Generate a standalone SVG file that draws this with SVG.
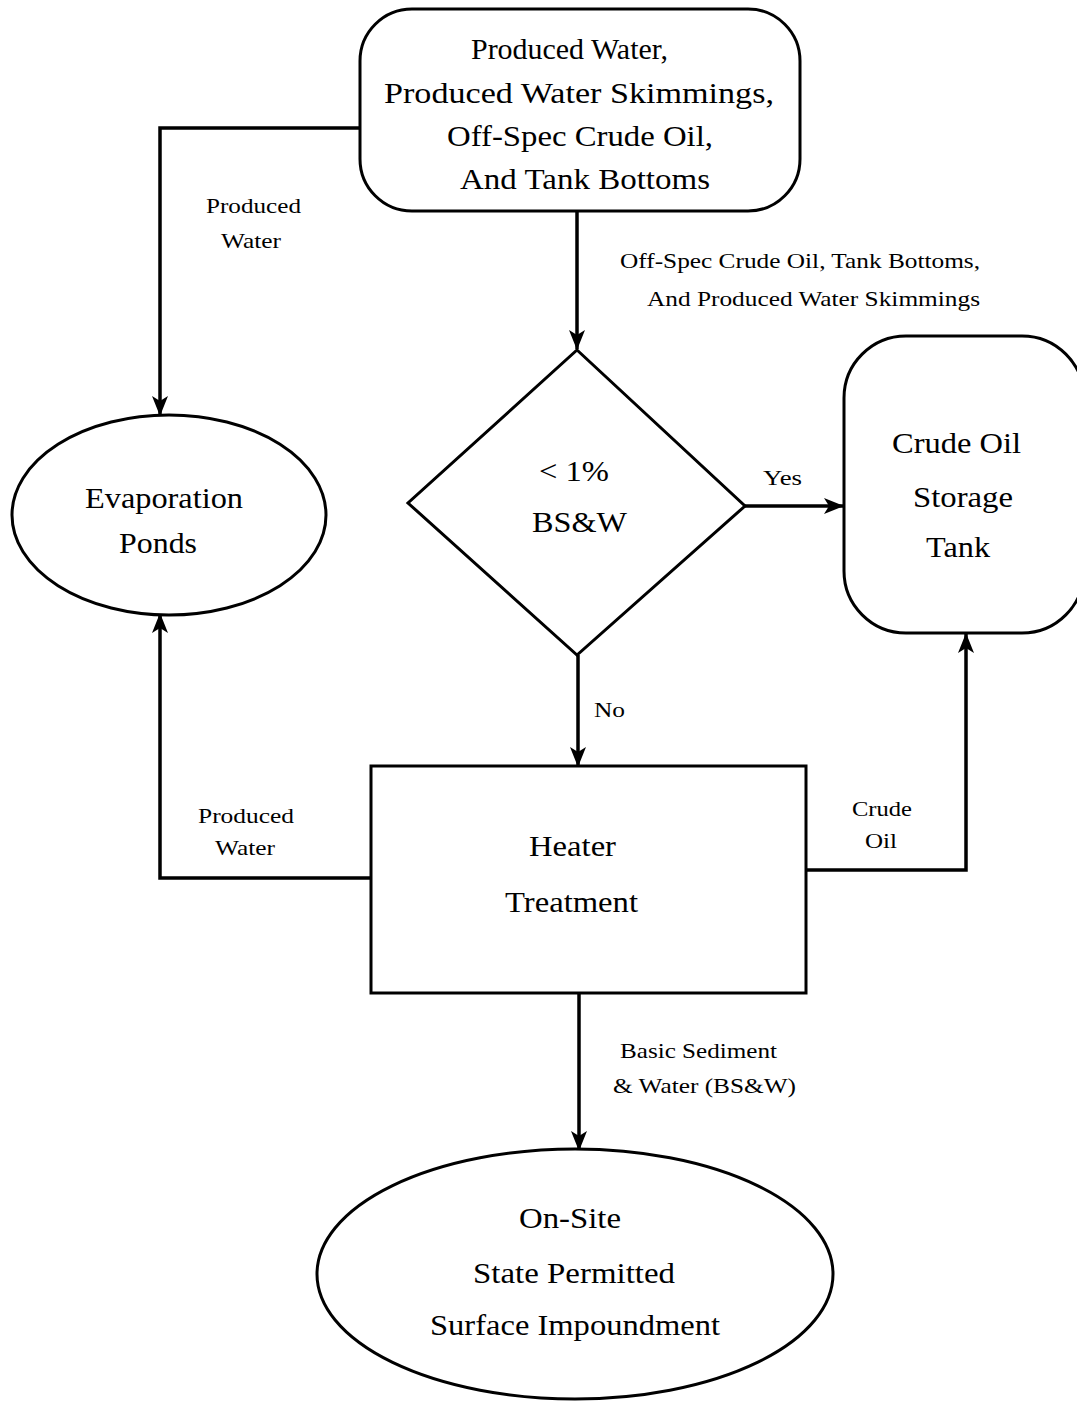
<svg xmlns="http://www.w3.org/2000/svg" width="1077" height="1401" viewBox="0 0 1077 1401">
<defs>
<marker id="ah" viewBox="0 0 20 20" refX="19" refY="10" markerWidth="20" markerHeight="20" markerUnits="userSpaceOnUse" orient="auto">
<path d="M0,2 L20,10 L0,18 L5,10 Z" fill="#000"/>
</marker>
<style>
.shape{fill:#fff;stroke:#000;stroke-width:3}
.conn{fill:none;stroke:#000;stroke-width:3.5;marker-end:url(#ah)}
.big{font-family:"Liberation Serif","Times New Roman",serif;font-size:29px;fill:#000}
.lbl{font-family:"Liberation Serif","Times New Roman",serif;font-size:21px;fill:#000}
</style>
</defs>
<rect width="1077" height="1401" fill="#fff"/>
<g id="connectors">
<polyline class="conn" points="360,128 160,128 160,415"/>
<line class="conn" x1="577" y1="211" x2="577" y2="349"/>
<line class="conn" x1="745" y1="506" x2="843" y2="506"/>
<line class="conn" x1="578" y1="655" x2="578" y2="766"/>
<polyline class="conn" points="371,878 160,878 160,614"/>
<polyline class="conn" points="806,870 966,870 966,634"/>
<line class="conn" x1="579" y1="994" x2="579" y2="1150"/>
<text class="lbl" x="206" y="213" textLength="95" lengthAdjust="spacingAndGlyphs">Produced</text>
<text class="lbl" x="221" y="248" textLength="60" lengthAdjust="spacingAndGlyphs">Water</text>
<text class="lbl" x="620" y="268" textLength="360" lengthAdjust="spacingAndGlyphs">Off-Spec Crude Oil, Tank Bottoms,</text>
<text class="lbl" x="647" y="306" textLength="333" lengthAdjust="spacingAndGlyphs">And Produced Water Skimmings</text>
<text class="lbl" x="763" y="485" textLength="39" lengthAdjust="spacingAndGlyphs">Yes</text>
<text class="lbl" x="594" y="717" textLength="31" lengthAdjust="spacingAndGlyphs">No</text>
<text class="lbl" x="198" y="823" textLength="96" lengthAdjust="spacingAndGlyphs">Produced</text>
<text class="lbl" x="215" y="855" textLength="60" lengthAdjust="spacingAndGlyphs">Water</text>
<text class="lbl" x="852" y="816" textLength="60" lengthAdjust="spacingAndGlyphs">Crude</text>
<text class="lbl" x="865" y="848" textLength="32" lengthAdjust="spacingAndGlyphs">Oil</text>
<text class="lbl" x="620" y="1058" textLength="157" lengthAdjust="spacingAndGlyphs">Basic Sediment</text>
<text class="lbl" x="613" y="1093" textLength="183" lengthAdjust="spacingAndGlyphs">&amp; Water (BS&amp;W)</text>
</g>
<g id="source">
<rect class="shape" x="360" y="9" width="440" height="202" rx="52" ry="52"/>
<text class="big" x="471" y="59" textLength="197" lengthAdjust="spacingAndGlyphs">Produced Water,</text>
<text class="big" x="384" y="103" textLength="390" lengthAdjust="spacingAndGlyphs">Produced Water Skimmings,</text>
<text class="big" x="447" y="146" textLength="266" lengthAdjust="spacingAndGlyphs">Off-Spec Crude Oil,</text>
<text class="big" x="460" y="189" textLength="250" lengthAdjust="spacingAndGlyphs">And Tank Bottoms</text>
</g>
<g id="evaporation">
<ellipse class="shape" cx="169" cy="515" rx="157" ry="100"/>
<text class="big" x="85" y="508" textLength="158" lengthAdjust="spacingAndGlyphs">Evaporation</text>
<text class="big" x="119" y="553" textLength="78" lengthAdjust="spacingAndGlyphs">Ponds</text>
</g>
<g id="decision">
<polygon class="shape" points="577,350 745,506 577,655 408,503"/>
<text class="big" x="539" y="481" textLength="70" lengthAdjust="spacingAndGlyphs">&lt; 1%</text>
<text class="big" x="532" y="532" textLength="95" lengthAdjust="spacingAndGlyphs">BS&amp;W</text>
</g>
<g id="storage">
<rect class="shape" x="844" y="336" width="240" height="297" rx="62" ry="62"/>
<text class="big" x="892" y="453" textLength="129" lengthAdjust="spacingAndGlyphs">Crude Oil</text>
<text class="big" x="913" y="507" textLength="100" lengthAdjust="spacingAndGlyphs">Storage</text>
<text class="big" x="926" y="557" textLength="64" lengthAdjust="spacingAndGlyphs">Tank</text>
</g>
<g id="heater">
<rect class="shape" x="371" y="766" width="435" height="227"/>
<text class="big" x="529" y="856" textLength="87" lengthAdjust="spacingAndGlyphs">Heater</text>
<text class="big" x="505" y="912" textLength="133" lengthAdjust="spacingAndGlyphs">Treatment</text>
</g>
<g id="impoundment">
<ellipse class="shape" cx="575" cy="1274" rx="258" ry="125"/>
<text class="big" x="519" y="1228" textLength="102" lengthAdjust="spacingAndGlyphs">On-Site</text>
<text class="big" x="473" y="1283" textLength="202" lengthAdjust="spacingAndGlyphs">State Permitted</text>
<text class="big" x="430" y="1335" textLength="290" lengthAdjust="spacingAndGlyphs">Surface Impoundment</text>
</g>
</svg>
